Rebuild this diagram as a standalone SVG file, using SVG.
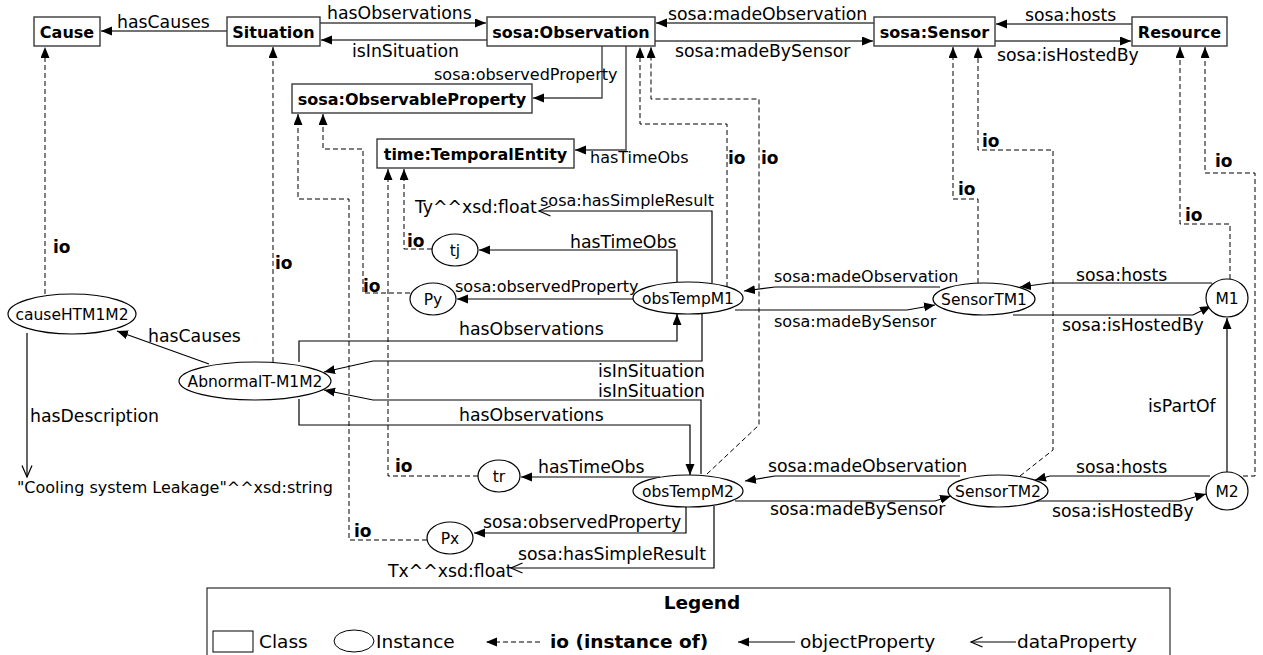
<svg xmlns="http://www.w3.org/2000/svg" width="1263" height="655" viewBox="0 0 1263 655">
<style>
text{font-family:"DejaVu Sans","Liberation Sans",sans-serif;fill:#000}
.cls rect{fill:#fff;stroke:#3a3a3a;stroke-width:1.4}
.cls text{font-weight:bold;font-size:16px;text-anchor:middle}
.ins ellipse{fill:#fff;stroke:#000;stroke-width:1.2}
.ins text{font-size:15.5px;text-anchor:middle}
.op{fill:none;stroke:#000;stroke-width:1.2;marker-end:url(#fa)}
.opg{fill:none;stroke:#444;stroke-width:1.4;marker-end:url(#fa)}
.dp{fill:none;stroke:#000;stroke-width:1.2;marker-end:url(#oa)}
.io{fill:none;stroke:#000;stroke-width:1;stroke-dasharray:5 3;marker-end:url(#fa)}
.l{font-size:17.3px}
.s{font-size:16px}
.b{font-weight:bold;font-size:17px}
.lg{font-size:18.5px}
</style>
<defs>
<marker id="fa" markerUnits="userSpaceOnUse" markerWidth="12" markerHeight="10" refX="11" refY="4.5" orient="auto"><path d="M0,0 L11,4.5 L0,9 z" fill="#000"/></marker>
<marker id="oa" markerUnits="userSpaceOnUse" markerWidth="14" markerHeight="12" refX="12" refY="5.5" orient="auto"><path d="M0.5,0.5 L12,5.5 L0.5,10.5" fill="none" stroke="#000" stroke-width="1.2"/></marker>
</defs>
<g id="connectors">
<path class="opg" d="M227,31 H101"/>
<path class="opg" d="M320,23 H486"/>
<path class="opg" d="M487,40 H321"/>
<path class="opg" d="M874,23 H656"/>
<path class="opg" d="M655,41 H873"/>
<path class="opg" d="M1132,24 H996"/>
<path class="opg" d="M995,41 H1131"/>
<path class="opg" d="M602,46 V98 H533"/>
<path class="opg" d="M626,46 V150 H575"/>
<path class="io" d="M45,294 V47"/>
<path class="io" d="M273,362 V47"/>
<path class="io" d="M410,293 H363 V149 H323 V114"/>
<path class="io" d="M427,540 H349 V199 H298 V114"/>
<path class="io" d="M432,249 H404 V169"/>
<path class="io" d="M478,476 H388 V169"/>
<path class="io" d="M727,287 V124 H640 V47"/>
<path class="io" d="M707,474 L759,425 V99 H651 V47"/>
<path class="io" d="M978,283 V199 H953 V47"/>
<path class="io" d="M1020,476 L1053,450 V150 H978 V47"/>
<path class="io" d="M1230,279 V224 H1180 V47"/>
<path class="io" d="M1243,476 H1255 V173 H1205 V47"/>
<path class="op" d="M209,364 L117,331"/>
<path class="op" d="M299,362 V341 H677 V314"/>
<path class="op" d="M299,399 V425 H690 V475"/>
<path class="op" d="M702,313 V361 H373 L324,372"/>
<path class="op" d="M701,474 V400 H373 L324,390"/>
<path class="op" d="M677,282 V250 H479"/>
<path class="op" d="M633,299 H457"/>
<path class="op" d="M940,287 H775 L744,291"/>
<path class="op" d="M735,310 H907 L935,305"/>
<path class="op" d="M1212,283 H1050 L1020,287"/>
<path class="op" d="M1013,315 H1193 L1211,306"/>
<path class="op" d="M1227,472 V318"/>
<path class="op" d="M660,477 H521"/>
<path class="op" d="M686,506 V533 H474"/>
<path class="op" d="M960,476 H775 L745,481"/>
<path class="op" d="M735,501 H935 L951,496"/>
<path class="op" d="M1210,476 H1050 L1035,480"/>
<path class="op" d="M1030,501 H1180 L1206,494"/>
<path class="dp" d="M27,333 V477"/>
<path class="dp" d="M712,283 V211 H539"/>
<path class="dp" d="M714,506 V568 H511"/>
</g>
<g id="edge-labels">
<text class="l" x="117" y="28">hasCauses</text>
<text class="l" x="327" y="19">hasObservations</text>
<text class="l" x="352" y="57">isInSituation</text>
<text class="l" x="668" y="20">sosa:madeObservation</text>
<text class="l" x="675" y="57">sosa:madeBySensor</text>
<text class="l" x="1025" y="21">sosa:hosts</text>
<text class="l" x="997" y="61">sosa:isHostedBy</text>
<text class="s" x="434" y="80">sosa:observedProperty</text>
<text class="s" x="590" y="163">hasTimeObs</text>
<text class="b" x="728" y="164">io</text>
<text class="b" x="761" y="164">io</text>
<text class="b" x="982" y="147">io</text>
<text class="b" x="958" y="195">io</text>
<text class="b" x="1215" y="167">io</text>
<text class="b" x="1185" y="221">io</text>
<text class="b" x="53" y="253">io</text>
<text class="b" x="275" y="269">io</text>
<text class="b" x="363" y="292">io</text>
<text class="b" x="407" y="247">io</text>
<text class="b" x="395" y="472">io</text>
<text class="b" x="354" y="537">io</text>
<text class="s" x="540" y="206">sosa:hasSimpleResult</text>
<text class="l" x="415" y="213">Ty^^xsd:float</text>
<text class="l" x="570" y="248">hasTimeObs</text>
<text class="s" x="455" y="292">sosa:observedProperty</text>
<text class="l" x="459" y="335">hasObservations</text>
<text class="l" x="598" y="377">isInSituation</text>
<text class="l" x="598" y="397">isInSituation</text>
<text class="l" x="148" y="342">hasCauses</text>
<text class="s" x="774" y="282">sosa:madeObservation</text>
<text class="s" x="774" y="327">sosa:madeBySensor</text>
<text class="l" x="1076" y="281">sosa:hosts</text>
<text class="l" x="1062" y="331">sosa:isHostedBy</text>
<text class="l" x="1148" y="412">isPartOf</text>
<text class="l" x="30" y="422">hasDescription</text>
<text class="s" x="17" y="493">"Cooling system Leakage"^^xsd:string</text>
<text class="l" x="459" y="421">hasObservations</text>
<text class="l" x="538" y="473">hasTimeObs</text>
<text class="l" x="483" y="528">sosa:observedProperty</text>
<text class="l" x="518" y="560">sosa:hasSimpleResult</text>
<text class="l" x="388" y="577">Tx^^xsd:float</text>
<text class="l" x="768" y="472">sosa:madeObservation</text>
<text class="l" x="770" y="515">sosa:madeBySensor</text>
<text class="l" x="1076" y="473">sosa:hosts</text>
<text class="l" x="1052" y="517">sosa:isHostedBy</text>
</g>
<g id="Cause" class="cls"><rect x="34" y="17" width="66" height="29"/><text x="67" y="37.5">Cause</text></g>
<g id="Situation" class="cls"><rect x="227" y="17" width="93" height="29"/><text x="273.5" y="37.5">Situation</text></g>
<g id="Observation" class="cls"><rect x="487" y="17" width="168" height="29"/><text x="571" y="37.5">sosa:Observation</text></g>
<g id="Sensor" class="cls"><rect x="874" y="17" width="121" height="29"/><text x="934.5" y="37.5">sosa:Sensor</text></g>
<g id="Resource" class="cls"><rect x="1132" y="17" width="95" height="29"/><text x="1179.5" y="37.5">Resource</text></g>
<g id="ObservableProperty" class="cls"><rect x="292" y="84" width="240" height="29"/><text x="412" y="104.5">sosa:ObservableProperty</text></g>
<g id="TemporalEntity" class="cls"><rect x="377" y="139" width="197" height="29"/><text x="475.5" y="159.5">time:TemporalEntity</text></g>
<g id="causeHTM1M2" class="ins"><ellipse cx="72" cy="314" rx="64" ry="20"/><text x="72" y="319.5">causeHTM1M2</text></g>
<g id="AbnormalT-M1M2" class="ins"><ellipse cx="255" cy="381" rx="76" ry="19"/><text x="255" y="386.5">AbnormalT-M1M2</text></g>
<g id="tj" class="ins"><ellipse cx="455" cy="250" rx="23" ry="16"/><text x="455" y="255.5">tj</text></g>
<g id="Py" class="ins"><ellipse cx="433" cy="299" rx="23" ry="16"/><text x="433" y="304.5">Py</text></g>
<g id="obsTempM1" class="ins"><ellipse cx="688" cy="298" rx="55" ry="16"/><text x="688" y="303.5">obsTempM1</text></g>
<g id="SensorTM1" class="ins"><ellipse cx="984" cy="299" rx="51" ry="16"/><text x="984" y="304.5">SensorTM1</text></g>
<g id="M1" class="ins"><ellipse cx="1227" cy="298" rx="21" ry="19"/><text x="1227" y="303.5">M1</text></g>
<g id="tr" class="ins"><ellipse cx="499" cy="476" rx="21" ry="16"/><text x="499" y="481.5">tr</text></g>
<g id="obsTempM2" class="ins"><ellipse cx="688" cy="491" rx="55" ry="16"/><text x="688" y="496.5">obsTempM2</text></g>
<g id="Px" class="ins"><ellipse cx="450" cy="538" rx="23" ry="16"/><text x="450" y="543.5">Px</text></g>
<g id="SensorTM2" class="ins"><ellipse cx="998" cy="491" rx="50" ry="16"/><text x="998" y="496.5">SensorTM2</text></g>
<g id="M2" class="ins"><ellipse cx="1227" cy="491" rx="21" ry="19"/><text x="1227" y="496.5">M2</text></g>
<g id="legend">
<rect x="207" y="588" width="963" height="75" fill="#fff" stroke="#000" stroke-width="1"/>
<text x="702" y="609" style="font-weight:bold;font-size:18.5px;text-anchor:middle">Legend</text>
<rect x="213" y="631" width="40" height="21" fill="#fff" stroke="#000" stroke-width="1"/>
<text class="lg" x="259" y="648">Class</text>
<ellipse cx="354" cy="641" rx="20" ry="11" fill="#fff" stroke="#000" stroke-width="1"/>
<text class="lg" x="376" y="648">Instance</text>
<path class="io" d="M540,642 H486"/>
<text class="lg" x="550" y="648" style="font-weight:bold">io (instance of)</text>
<path class="op" d="M795,642 H738"/>
<text class="lg" x="800" y="648">objectProperty</text>
<path class="dp" d="M1016,642 H971"/>
<text class="lg" x="1017" y="648">dataProperty</text>
</g>
</svg>
